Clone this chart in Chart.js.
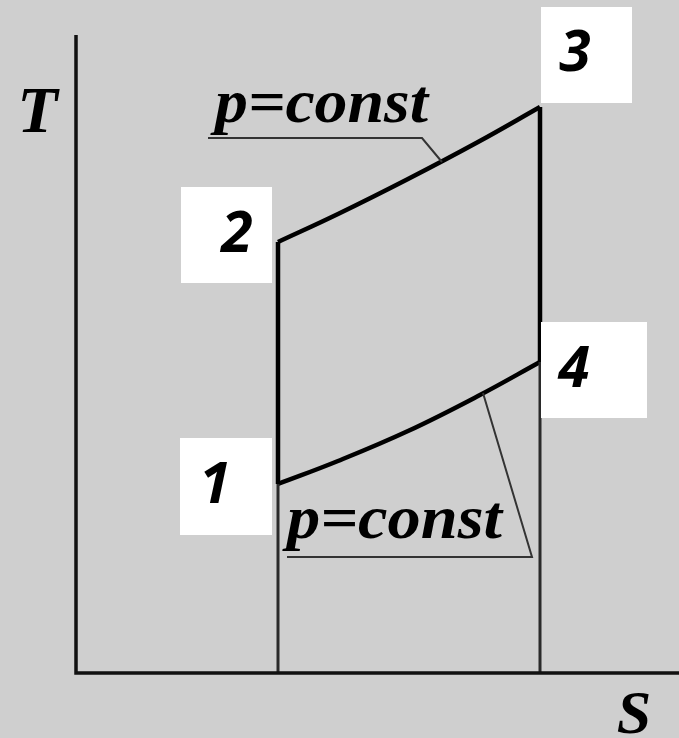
<!DOCTYPE html>
<html lang="en">
<head>
<meta charset="UTF-8">
<title>T-S diagram</title>
<script src="https://cdn.jsdelivr.net/npm/chart.js"></script>
<style>
  html, body { margin: 0; padding: 0; background: #cfcfcf; }
  #wrap { width: 679px; height: 738px; }
</style>
</head>
<body>
<div id="wrap"><canvas id="ts"></canvas></div>
<script>
// entropy S and temperature T (arbitrary units, origin at axes corner)
const isobarS = [2.02, 2.62, 3.32, 4.02, 4.64]
const highIsobarT = [4.31, 4.59, 4.94, 5.31, 5.66] // 2 -> 3
const lowIsobarT = [1.89, 2.12, 2.42, 2.77, 3.11]  // 1 -> 4
const stateNames = ["1", "2", "3", "4"]
const isobarText = "p=const"
const axisNames = ["T", "S"]
const axisTop = 6.38
const axisRight = 6.03

// leader lines from the "p=const" captions to the isobars
const leaderHighS = [1.32, 3.46, 3.66]
const leaderHighT = [5.35, 5.35, 5.11]
const leaderLowS = [4.07, 4.56, 2.11]
const leaderLowT = [2.80, 1.16, 1.16]

const pts = (xs, ys) => xs.map((x, i) => ({ x: x, y: ys[i] }))
const last = isobarS.length - 1
const s1 = isobarS[0], s3 = isobarS[last]
const states = [
  { x: s1, y: lowIsobarT[0] },
  { x: s1, y: highIsobarT[0] },
  { x: s3, y: highIsobarT[last] },
  { x: s3, y: lowIsobarT[last] },
]

function seg(data, width, color, tension) {
  return {
    data: data,
    showLine: true,
    borderColor: color,
    borderWidth: width,
    pointRadius: 0,
    tension: tension || 0,
    fill: false,
    clip: false,
  }
}

const datasets = [
  seg([{ x: 0, y: axisTop }, { x: 0, y: 0 }, { x: axisRight, y: 0 }], 3.5, "#111"),
  seg([{ x: s1, y: 0 }, states[0]], 3, "#2a2a2a"),
  seg([{ x: s3, y: 0 }, states[3]], 3, "#2a2a2a"),
  seg(pts(leaderHighS, leaderHighT), 2, "#333"),
  seg(pts(leaderLowS, leaderLowT), 2, "#333"),
  seg([states[0], states[1]], 4.5, "#000"),
  seg([states[2], states[3]], 4.5, "#000"),
  seg(pts(isobarS, highIsobarT), 4.5, "#000", 0.4),
  seg(pts(isobarS, lowIsobarT), 4.5, "#000", 0.4),
]

// box [dx, dy, w, h] and digit centre [dx, dy] relative to each state point
const boxes = [
  { box: [-98, -46, 92, 97], digit: [-63, 3] },
  { box: [-97, -55, 91, 96], digit: [-41, -6] },
  { box: [1, -100, 91, 96], digit: [35, -52] },
  { box: [1, -40, 106, 96], digit: [34, 9] },
]

const labelsPlugin = {
  id: "labels",
  afterDatasetsDraw(chart) {
    const { ctx } = chart
    const xs = chart.scales.x, ys = chart.scales.y
    ctx.save()

    // white boxes with state numbers
    states.forEach((p, i) => {
      const px = xs.getPixelForValue(p.x), py = ys.getPixelForValue(p.y)
      const b = boxes[i].box, d = boxes[i].digit
      ctx.fillStyle = "#fff"
      ctx.fillRect(px + b[0], py + b[1], b[2], b[3])
      ctx.fillStyle = "#000"
      ctx.font = "italic bold 57px 'Open Sans'"
      ctx.textAlign = "center"
      ctx.textBaseline = "middle"
      ctx.fillText(stateNames[i], px + d[0], py + d[1])
    })

    // "p=const" captions, stretched to the width of their underline
    ctx.textAlign = "left"
    ctx.textBaseline = "alphabetic"
    ctx.font = "italic bold 61px 'Liberation Serif'"
    const w = ctx.measureText(isobarText).width
    const captions = [
      { x: xs.getPixelForValue(leaderHighS[0]) + 7, y: ys.getPixelForValue(leaderHighT[0]) - 16, w: 213 },
      { x: xs.getPixelForValue(leaderLowS[2]), y: ys.getPixelForValue(leaderLowT[2]) - 19, w: 215 },
    ]
    captions.forEach(c => {
      ctx.save()
      ctx.translate(c.x, c.y)
      ctx.scale(c.w / w, 1)
      ctx.fillText(isobarText, 0, 0)
      ctx.restore()
    })

    // axis names
    ctx.font = "italic bold 66px 'Liberation Serif'"
    ctx.textAlign = "center"
    ctx.fillText(axisNames[0], xs.getPixelForValue(-0.385), ys.getPixelForValue(5.41))
    ctx.font = "italic bold 62px 'Liberation Serif'"
    ctx.fillText(axisNames[1], xs.getPixelForValue(5.58), ys.getPixelForValue(-0.6))
    ctx.restore()
  },
}

new Chart(document.getElementById("ts"), {
  type: "scatter",
  data: { datasets: datasets },
  options: {
    responsive: true,
    maintainAspectRatio: false,
    devicePixelRatio: 1,
    animation: false,
    layout: { padding: 0 },
    plugins: { legend: { display: false }, tooltip: { enabled: false } },
    scales: {
      x: { type: "linear", min: -0.76, max: 6.03, display: false },
      y: { type: "linear", min: -0.65, max: 6.73, display: false },
    },
  },
  plugins: [labelsPlugin],
})
</script>
</body>
</html>
